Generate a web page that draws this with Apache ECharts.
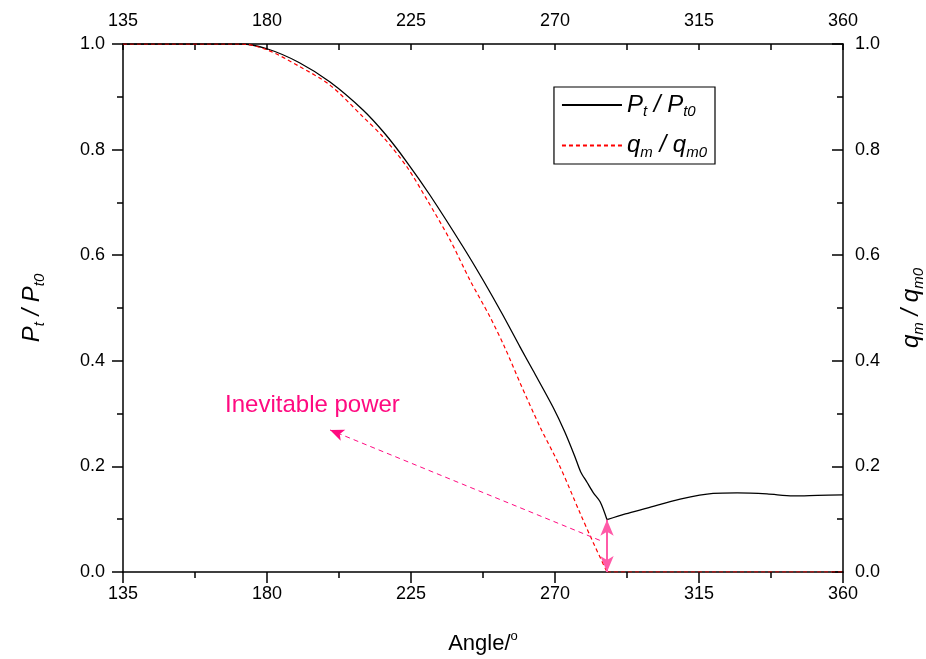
<!DOCTYPE html>
<html>
<head>
<meta charset="utf-8">
<script src="https://cdn.jsdelivr.net/npm/echarts@6/dist/echarts.min.js"></script>
<style>
  html, body { margin: 0; padding: 0; background: #fff; }
  #chart { width: 926px; height: 659px; }
</style>
</head>
<body>
<div id="chart"></div>
<script>
// x axis ticks (angle, degrees)
const angleTicks = [135, 180, 225, 270, 315, 360]

// P_t / P_t0 (solid black), [angle, value]; '-' splits the line at the cusp
const ptData = [
  [135, 1], [172, 1], [180, 0.991], [190, 0.965], [199.7, 0.928], [210, 0.875],
  [217, 0.829], [223.75, 0.776], [230.9, 0.714], [241.25, 0.616], [247.5, 0.553],
  [253.4, 0.490], [259.1, 0.426], [263.1, 0.382], [269.4, 0.312], [273, 0.266],
  [276.25, 0.218], [278, 0.190], [280, 0.170], [282, 0.150], [284.1, 0.133],
  [286.25, 0.099], '-', [286.25, 0.099], [292, 0.110], [298.75, 0.121], [309.1, 0.138],
  [319.4, 0.149], [326.9, 0.150], [336.25, 0.148], [344.4, 0.144], [352, 0.145], [360, 0.146]
]

// q_m / q_m0 (dashed red), [angle, value]; '-' splits the line where it reaches zero
const qmData = [
  [135, 1], [172, 1], [180, 0.989], [190, 0.958], [199.7, 0.922], [210, 0.862],
  [216.25, 0.824], [223.75, 0.767], [230, 0.705], [237.2, 0.629], [243.4, 0.553],
  [249.7, 0.483], [254.4, 0.424], [259.1, 0.358], [265.3, 0.275], [271.6, 0.199],
  [277.8, 0.112], [282, 0.055], [286.25, 0], '-', [286.25, 0], [360, 0]
]

// annotation: gap arrow and pointer to the label
const gapArrow = [[286.25, 0.099], [286.25, 0]]
const pointerLine = [[284, 0.06], [199.7, 0.269]]
const labelPos = [166.9, 0.316]
const labelText = 'Inevitable power'

const pink = '#ff0a80'
const font = 'Liberation Sans, Arial, sans-serif'

const chart = echarts.init(document.getElementById('chart'))

const nameRich = {
  i: { fontFamily: font, fontStyle: 'italic', fontSize: 24, color: '#000', verticalAlign: 'middle' },
  s: { fontFamily: font, fontStyle: 'italic', fontSize: 15, color: '#000', padding: [14, 0, 0, 0], verticalAlign: 'middle' },
  n: { fontFamily: font, fontSize: 22, color: '#000', verticalAlign: 'middle' },
  o: { fontFamily: font, fontSize: 13, color: '#000', padding: [0, 0, 14, 0], verticalAlign: 'middle' }
}

function xAxisCfg(pos) {
  const top = pos === 'top'
  return {
    type: 'value',
    position: pos,
    min: angleTicks[0],
    max: angleTicks[angleTicks.length - 1],
    interval: 45,
    name: top ? '' : '{n|Angle/}{o|o}',
    nameLocation: 'middle',
    nameGap: 58,
    nameTextStyle: { rich: nameRich },
    axisLine: { show: true, onZero: false, lineStyle: { color: '#000', width: 1.5 } },
    axisTick: { show: true, inside: top, length: top ? 6 : 11, lineStyle: { color: '#000', width: 1.5 } },
    minorTick: { show: true, splitNumber: 2, length: 6, lineStyle: { color: '#000', width: 1.5 } },
    axisLabel: { color: '#000', fontFamily: font, fontSize: 18, margin: top ? 14 : 13 },
    splitLine: { show: false }
  }
}

function yAxisCfg(pos, name) {
  const right = pos === 'right'
  return {
    type: 'value',
    position: pos,
    min: 0,
    max: 1,
    interval: 0.2,
    name: name,
    nameLocation: 'middle',
    nameRotate: 90,
    nameGap: right ? 54 : 76,
    nameTextStyle: { rich: nameRich },
    axisLine: { show: true, onZero: false, lineStyle: { color: '#000', width: 1.5 } },
    axisTick: { show: true, inside: right, length: 11, lineStyle: { color: '#000', width: 1.5 } },
    minorTick: { show: true, splitNumber: 2, length: 6, lineStyle: { color: '#000', width: 1.5 } },
    axisLabel: {
      color: '#000', fontFamily: font, fontSize: 18, margin: right ? 12 : 18,
      formatter: v => v.toFixed(1)
    },
    splitLine: { show: false }
  }
}

const option = {
  animation: false,
  grid: { left: 123, right: 83, top: 44, bottom: 87, containLabel: false, outerBoundsMode: 'none' },
  xAxis: [xAxisCfg('bottom'), xAxisCfg('top')],
  yAxis: [
    yAxisCfg('left', '{i|P}{s|t}{i| / P}{s|t0}'),
    yAxisCfg('right', '{i|q}{s|m}{i| / q}{s|m0}')
  ],
  legend: {
    data: ['Pt', 'qm'],
    orient: 'vertical',
    right: 211,
    top: 87,
    itemWidth: 60,
    itemHeight: 14,
    itemGap: 14,
    padding: [6, 8, 4, 7],
    borderColor: '#000',
    borderWidth: 1.2,
    borderRadius: 0,
    itemStyle: { opacity: 0 },
    formatter: n => n === 'Pt' ? '{i|P}{s|t}{i| / P}{s|t0}' : '{i|q}{s|m}{i| / q}{s|m0}',
    textStyle: { rich: nameRich }
  },
  series: [
    {
      name: 'Pt',
      type: 'line',
      data: ptData,
      symbol: 'none',
      smooth: 0.3,
      connectNulls: false,
      lineStyle: { color: '#000', width: 1.3 },
      itemStyle: { color: '#000' }
    },
    {
      name: 'qm',
      type: 'line',
      yAxisIndex: 1,
      data: qmData,
      symbol: 'none',
      smooth: 0.3,
      connectNulls: false,
      lineStyle: { color: '#ff0000', width: 1.2, type: [4, 3] },
      itemStyle: { color: '#ff0000' }
    },
    {
      name: 'annot',
      type: 'line',
      data: [],
      silent: true,
      markLine: {
        silent: true,
        animation: false,
        label: { show: false },
        data: [
          [
            { coord: gapArrow[0], symbol: 'arrow', symbolSize: [10, 16], lineStyle: { color: '#ff5aa8', width: 2, type: 'solid' }, itemStyle: { color: pink } },
            { coord: gapArrow[1], symbol: 'arrow', symbolSize: [10, 16] }
          ],
          [
            { coord: pointerLine[0], symbol: 'none', lineStyle: { color: pink, width: 1, type: [5, 4] } },
            { coord: pointerLine[1], symbol: 'arrow', symbolSize: [9, 14] }
          ]
        ],
        itemStyle: { color: pink }
      },
      markPoint: {
        silent: true,
        symbol: 'circle',
        symbolSize: 0,
        data: [{ coord: labelPos, value: labelText }],
        label: {
          show: true,
          position: 'right',
          distance: 0,
          formatter: labelText,
          color: pink,
          fontFamily: font,
          fontSize: 24
        }
      }
    }
  ]
}

chart.setOption(option)
</script>
</body>
</html>
